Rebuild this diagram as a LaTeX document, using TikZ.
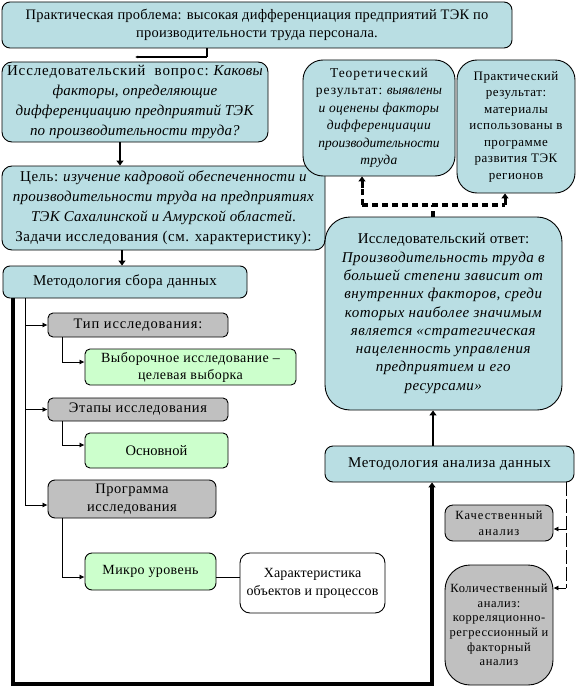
\documentclass[tikz,border=0pt]{standalone}
\usepackage{fontspec}
\setmainfont{Liberation Serif}
\usetikzlibrary{arrows.meta}
\definecolor{cyanf}{RGB}{185,222,227}
\definecolor{greenf}{RGB}{204,255,204}
\definecolor{grayf}{RGB}{192,192,192}
\newcommand{\fs}[2]{\fontsize{#1}{#2}\selectfont}
\newcommand{\ls}[2]{{\addfontfeature{LetterSpace=#1}#2}}
\newcommand{\il}[2]{\textit{\addfontfeature{LetterSpace=#1}#2}}
\begin{document}
\begin{tikzpicture}[x=1pt,y=-1pt,
  bx/.style={draw=black, line width=0.9pt, inner sep=0pt, align=center, text=black},
  cy/.style={bx, fill=cyanf},
  gr/.style={bx, fill=grayf},
  gn/.style={bx, fill=greenf},
  wh/.style={bx, fill=white},
  sz/.style n args={2}{minimum width=#1pt, minimum height=#2pt},
  thickarr/.style={line width=2.6pt, -{Triangle[width=7pt,length=5pt]}},
  thinarr/.style={line width=0.7pt, -{Latex[length=5pt,width=5pt]}},
  dasharr/.style={line width=3.5pt, dash pattern=on 6pt off 4pt},
  thinpath/.style={line width=0.7pt},
]
\useasboundingbox (0,0) rectangle (578,698);

% boxes
\node[cy, sz={510}{46}, rounded corners=8pt, font=\fs{14.5}{18}] (top) at (257,25)
  {\ls{1.5}{Практическая проблема: высокая дифференциация предприятий ТЭК по}\\\ls{1.5}{производительности труда персонала.}};
\node[cy, sz={266}{80}, rounded corners=10pt, font=\fs{15}{20}] (q) at (135,102)
  {\ls{6}{Исследовательский\ \ вопрос:} \il{1.3}{Каковы}\\\il{1.3}{факторы, определяющие}\\\il{1.3}{дифференциацию предприятий ТЭК}\\\il{1.3}{по производительности труда?}};
\node[cy, sz={323}{84}, rounded corners=10pt, font=\fs{15}{20}] (goal) at (163.5,208)
  {\ls{3.5}{Цель:} \il{1.8}{изучение кадровой обеспеченности и}\\\il{1.8}{производительности труда на предприятиях}\\\il{1.8}{ТЭК Сахалинской и Амурской областей}.\\\ls{3.5}{Задачи исследования (см. характеристику):}};
\node[cy, sz={244}{32}, rounded corners=7pt, font=\fs{15}{18}] (meth) at (125,282)
  {\ls{2.5}{Методология сбора данных}};
\node[cy, sz={152}{116}, rounded corners=20pt, font=\fs{13.5}{17.5}] (theo) at (379,118)
  {\ls{7}{Теоретический}\\\ls{7}{результат:} \textit{выявлены}\\\il{2}{и оценены факторы}\\\il{3}{дифференциации}\\\textit{производительности}\\\il{2}{труда}};
\node[cy, sz={118}{133}, rounded corners=20pt, font=\fs{13}{16.5}] (prac) at (516,126.5)
  {\ls{4}{Практический}\\\ls{4}{результат:}\\\ls{4}{материалы}\\\ls{4}{использованы в}\\\ls{4}{программе}\\\ls{4}{развития ТЭК}\\\ls{4}{регионов}};
\node[cy, sz={237}{193}, rounded corners=25pt, font=\fs{15}{18.3}] (ans) at (443.5,313.5)
  {\ls{1.7}{Исследовательский ответ:}\\\il{3.3}{Производительность труда в}\\\il{3.3}{большей степени зависит от}\\\il{3.3}{внутренних факторов, среди}\\\il{3.3}{которых наиболее значимым}\\\il{3.3}{является «стратегическая}\\\il{3.3}{нацеленность управления}\\\il{3.3}{предприятием и его}\\\il{3.3}{ресурсами»}};
\node[gr, sz={180}{24}, rounded corners=5pt, font=\fs{14.5}{17}] (tip) at (138,325)
  {\ls{6}{Тип исследования:}};
\node[gn, sz={211}{36}, rounded corners=5pt, font=\fs{14}{17}] (vyb) at (190.5,367)
  {\ls{3}{Выборочное исследование –}\\\ls{3}{целевая выборка}};
\node[gr, sz={180}{23}, rounded corners=5pt, font=\fs{14.5}{17}] (etap) at (138,409.5)
  {\ls{4.6}{Этапы исследования}};
\node[gn, sz={143}{35}, rounded corners=5pt, font=\fs{14.5}{17}] (osn) at (156.5,450.5)
  {Основной};
\node[gr, sz={168}{38}, rounded corners=7pt, font=\fs{14.5}{18}] (prog) at (132,499)
  {\ls{3.5}{Программа}\\\ls{3.5}{исследования}};
\node[gn, sz={131}{37}, rounded corners=7pt, font=\fs{14}{17}] (mikro) at (150.5,571.5)
  {\ls{2.7}{Микро уровень}};
\node[wh, sz={145}{60}, rounded corners=10pt, font=\fs{14}{18}] (har) at (312.5,583)
  {\ls{1}{Характеристика}\\\ls{1}{объектов и процессов}};
\node[cy, sz={249}{36}, rounded corners=8pt, font=\fs{15}{18}] (anal) at (449.5,464)
  {\ls{3.9}{Методология анализа данных}};
\node[gr, sz={108}{36}, rounded corners=8pt, font=\fs{12.5}{16}] (kach) at (499,523)
  {\ls{8}{Качественный}\\\ls{8}{анализ}};
\node[gr, sz={108}{120}, rounded corners=25pt, font=\fs{12.5}{14.6}] (kol) at (499,625)
  {\ls{4.5}{Количественный}\\\ls{4.5}{анализ:}\\\ls{4.5}{корреляционно-}\\\ls{4.5}{регрессионный и}\\\ls{4.5}{факторный}\\\ls{4.5}{анализ}};

% connectors
\coordinate (c1) at (207,57);
\coordinate (c1e) at (135,57);
\draw[line width=2.6pt] (top.south -| c1) -- (c1);
\draw[line width=1.4pt, -{Latex[length=3pt,width=3pt]}] (c1) -- (c1e);

\draw[thickarr] (q.south -| 120,0) -- (goal.north -| 120,0);
\draw[thickarr] (goal.south -| 122,0) -- (meth.north -| 122,0);

% big loop
\coordinate (bl) at (13,684);
\coordinate (br) at (432,684);
\draw[line width=3.2pt, -{Triangle[width=7pt,length=5pt]}] (meth.south -| bl) -- (bl) -- (br) -- (anal.south -| br);

% tree
\coordinate (t0) at (25,505);
\draw[thinpath] (meth.south -| t0) -- (t0);
\draw[thinarr] (25,325) -- (tip.west);
\draw[thinarr] (25,409.5) -- (etap.west);
\draw[thinarr] (t0) -- (t0 -| prog.west);

\coordinate (s1) at (62,362);
\draw[thinarr] (tip.south -| s1) -- (s1) -- (s1 -| vyb.west);
\coordinate (s2) at (62,445);
\draw[thinarr] (etap.south -| s2) -- (s2) -- (s2 -| osn.west);
\coordinate (s3) at (62,577);
\draw[thinarr] (prog.south -| s3) -- (s3) -- (s3 -| mikro.west);
\draw[thinpath] (mikro.east |- s3) -- (har.west |- s3);

% answer -> results
\draw[thickarr] (anal.north -| 433,0) -- (ans.south -| 433,0);
\coordinate (d0) at (433,205);
\coordinate (dl) at (362,205);
\coordinate (dr) at (505,205);
\draw[dasharr] (ans.north -| d0) -- (d0);
\draw[dasharr] (dl) -- (dr);
\draw[line width=3pt, dash pattern=on 6pt off 4pt] (dl) -- (362,186);
\draw[line width=3pt, -{Triangle[width=7pt,length=5pt]}] (362,188) -- (theo.south -| dl);
\draw[line width=3pt, -{Triangle[width=7pt,length=5pt]}] (dr) -- (prac.south -| dr);

% analysis branches
\coordinate (a1) at (566,529);
\coordinate (a2) at (566,588);
\draw[line width=0.8pt, dash pattern=on 14pt off 3pt] (anal.south -| a1) -- (a2);
\draw[thinarr] (a1) -- (a1 -| kach.east);
\draw[thinarr] (a2) -- (a2 -| kol.east);
\end{tikzpicture}
\end{document}
